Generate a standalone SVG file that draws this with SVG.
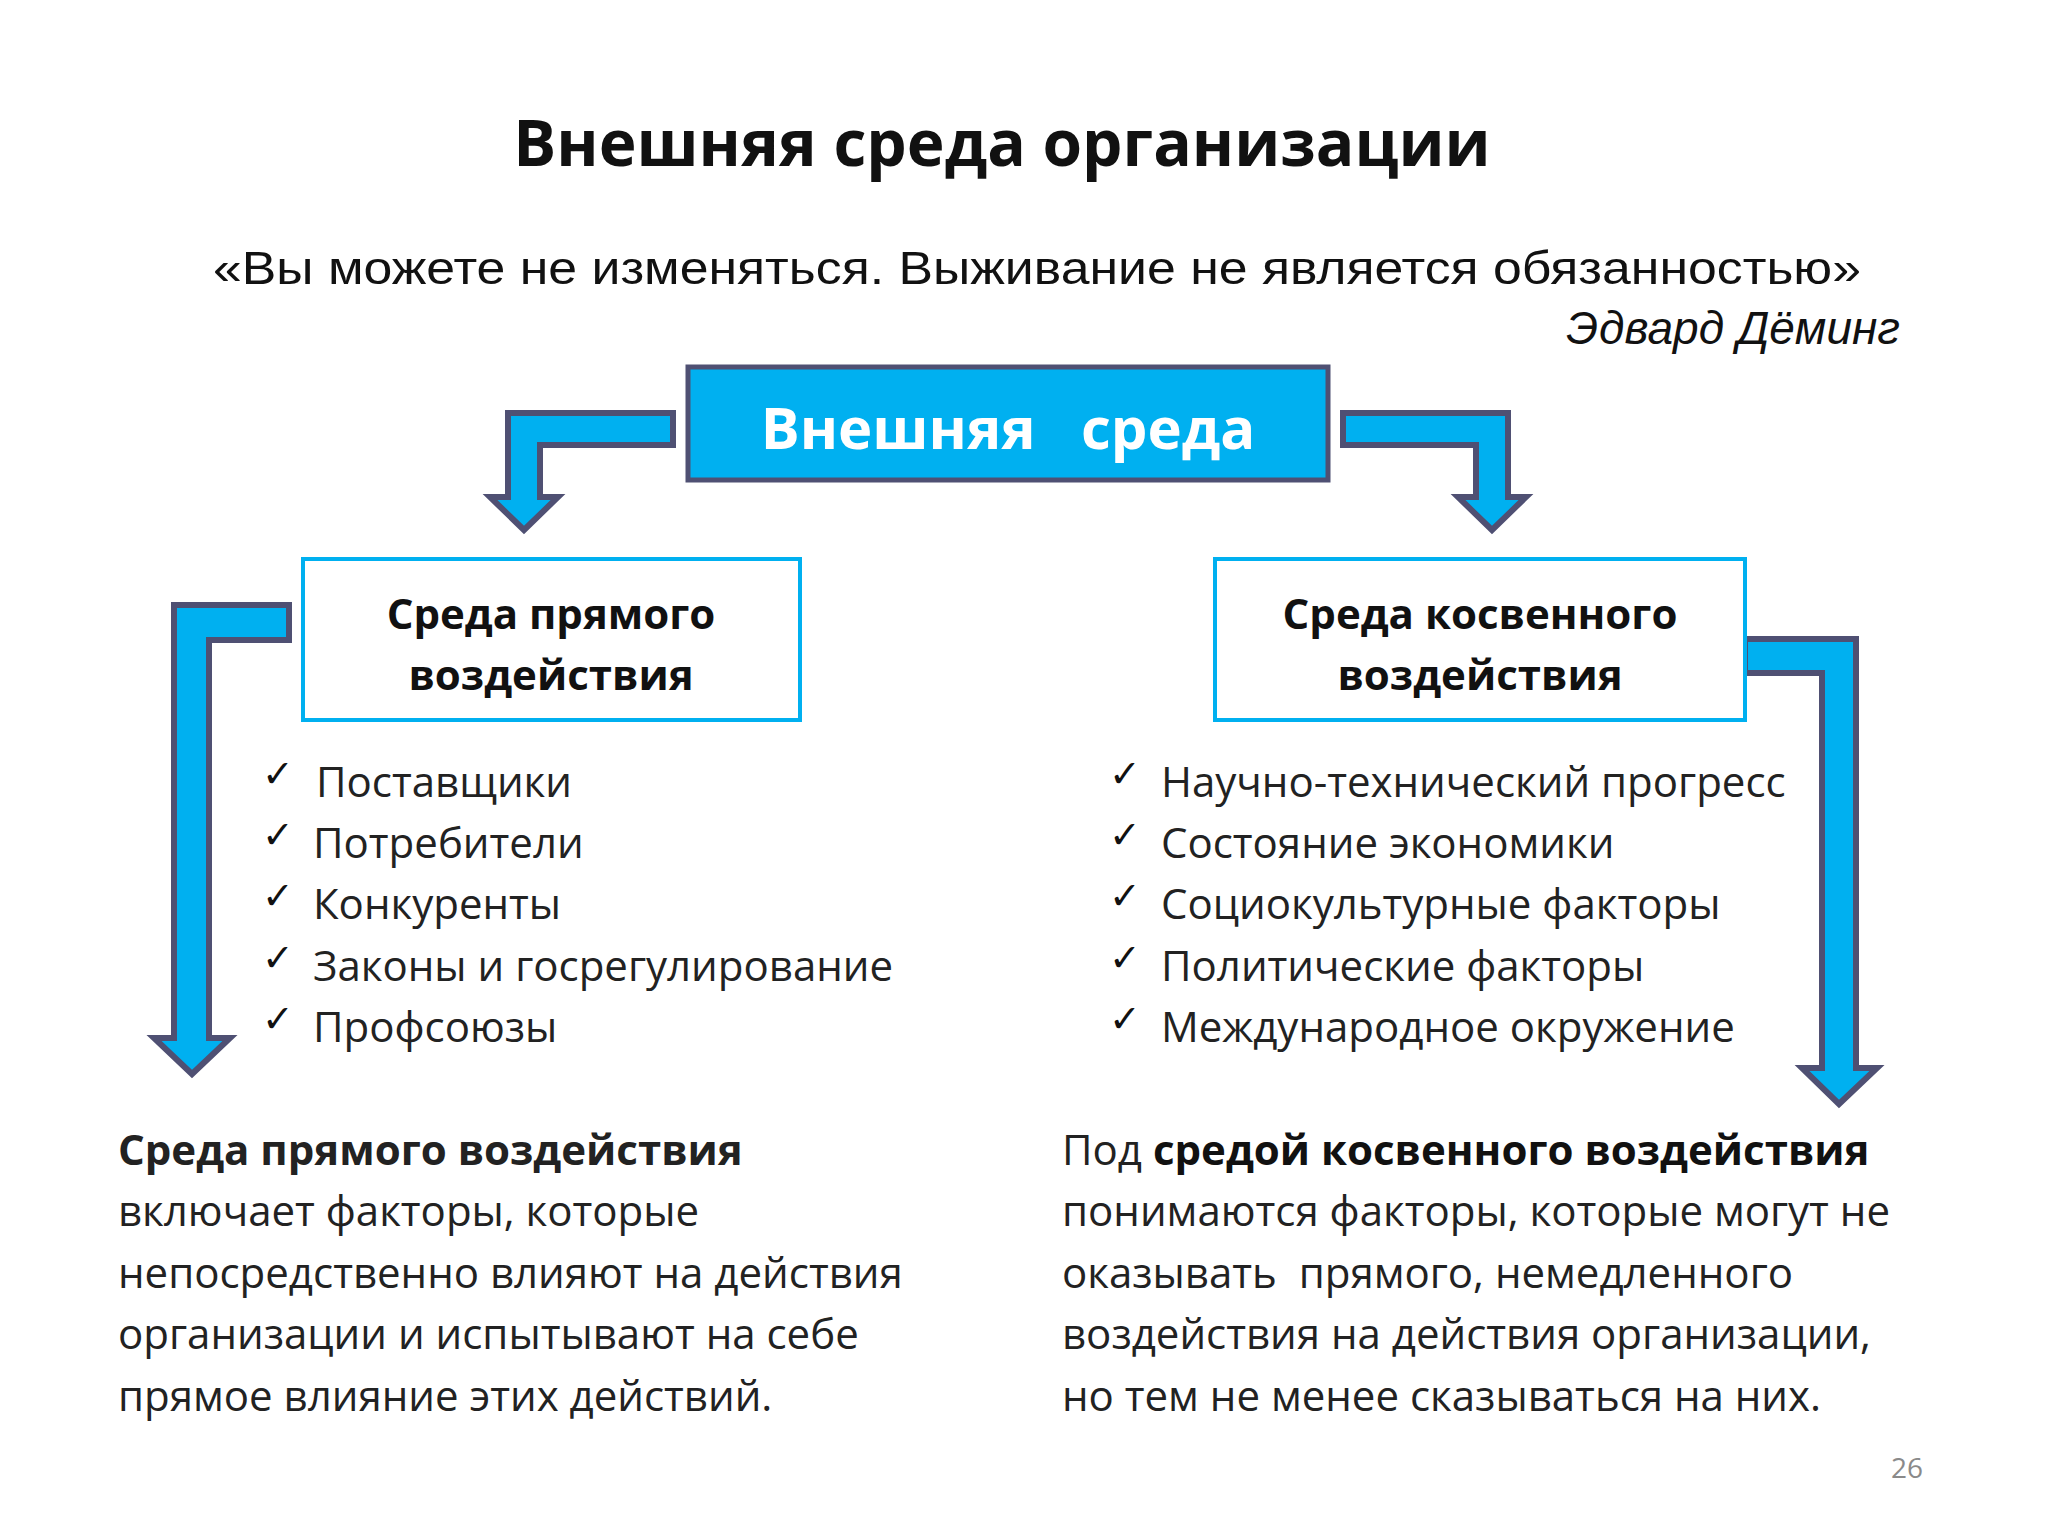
<svg xmlns="http://www.w3.org/2000/svg" width="2048" height="1536" viewBox="0 0 2048 1536">
<style>
.arr{fill:#00b0f0;stroke:#4f5073;stroke-width:6;stroke-linejoin:miter}
.box{fill:#fff;stroke:#00b0f0;stroke-width:4}
.bt{font-family:"Open Sans",sans-serif;font-weight:bold;font-size:42px;fill:#111;text-anchor:middle}
.li{font-family:"Open Sans",sans-serif;font-size:42px;fill:#222}
.ck{font-family:"DejaVu Sans",sans-serif;font-size:38px;fill:#111}
.p{font-family:"Open Sans",sans-serif;font-size:42px;fill:#222}
</style>
<rect width="2048" height="1536" fill="#fff"/>
<text x="1002" y="166" font-family="Open Sans,sans-serif" font-weight="bold" font-size="64" text-anchor="middle" fill="#111">Внешняя среда организации</text>
<text x="213" y="284" font-family="Liberation Sans,Arial,sans-serif" font-size="46" fill="#111" textLength="1648" lengthAdjust="spacingAndGlyphs">«Вы можете не изменяться. Выживание не является  обязанностью»</text>
<text x="1900" y="344" font-family="Liberation Sans,Arial,sans-serif" font-style="italic" font-size="46" text-anchor="end" fill="#111">Эдвард Дёминг</text>
<g id="connectors">
<path class="arr" d="M673,413 H508 V497 H490 L524,530 L558,497 H540 V445 H673 Z"/>
<path class="arr" d="M1343,413 H1508 V497 H1526 L1492,530 L1458,497 H1476 V445 H1343 Z"/>
<path class="arr" d="M289,605 H174 V1038 H154 L192,1074 L230,1038 H209 V640 H289 Z"/>
<path class="arr" d="M1745,639 H1856 V1068 H1877 L1839,1104 L1802,1068 H1822 V673 H1745 Z"/>
</g>
<g id="main">
<rect x="688" y="367" width="640" height="113" fill="#00b0f0" stroke="#4f5073" stroke-width="5"/>
<text x="1008" y="449" font-family="Open Sans,sans-serif" font-weight="bold" font-size="58" fill="#fff" text-anchor="middle" xml:space="preserve">Внешняя   среда</text>
</g>
<g id="direct">
<rect class="box" x="303" y="559" width="497" height="161"/>
<text class="bt" x="551" y="629">Среда прямого</text>
<text class="bt" x="551" y="690">воздействия</text>
</g>
<g id="indirect">
<rect class="box" x="1215" y="559" width="530" height="161"/>
<text class="bt" x="1480" y="629">Среда косвенного</text>
<text class="bt" x="1480" y="690">воздействия</text>
</g>
<g id="list-left">
<text class="ck" x="262" y="787">✓</text><text class="li" x="316" y="797">Поставщики</text>
<text class="ck" x="262" y="848">✓</text><text class="li" x="313" y="858">Потребители</text>
<text class="ck" x="262" y="909">✓</text><text class="li" x="313" y="919">Конкуренты</text>
<text class="ck" x="262" y="971">✓</text><text class="li" x="313" y="981">Законы и госрегулирование</text>
<text class="ck" x="262" y="1032">✓</text><text class="li" x="313" y="1042">Профсоюзы</text>
</g>
<g id="list-right">
<text class="ck" x="1109" y="787">✓</text><text class="li" x="1161" y="797">Научно-технический прогресс</text>
<text class="ck" x="1109" y="848">✓</text><text class="li" x="1161" y="858">Состояние экономики</text>
<text class="ck" x="1109" y="909">✓</text><text class="li" x="1161" y="919">Социокультурные факторы</text>
<text class="ck" x="1109" y="971">✓</text><text class="li" x="1161" y="981">Политические факторы</text>
<text class="ck" x="1109" y="1032">✓</text><text class="li" x="1161" y="1042">Международное окружение</text>
</g>
<g id="text-left">
<text class="p" x="118" y="1165" font-weight="bold" fill="#111">Среда прямого воздействия</text>
<text class="p" x="118" y="1226">включает факторы, которые</text>
<text class="p" x="118" y="1288">непосредственно влияют на действия</text>
<text class="p" x="118" y="1349">организации и испытывают на себе</text>
<text class="p" x="118" y="1411">прямое влияние этих действий.</text>
</g>
<g id="text-right">
<text class="p" x="1062" y="1165">Под <tspan font-weight="bold" fill="#111">средой косвенного воздействия</tspan></text>
<text class="p" x="1062" y="1226">понимаются факторы, которые могут не</text>
<text class="p" x="1062" y="1288" xml:space="preserve">оказывать  прямого, немедленного</text>
<text class="p" x="1062" y="1349">воздействия на действия организации,</text>
<text class="p" x="1062" y="1411">но тем не менее сказываться на них.</text>
</g>
<text x="1907" y="1478" font-family="Open Sans,sans-serif" font-size="28" fill="#8a8a8a" text-anchor="middle">26</text>
</svg>
